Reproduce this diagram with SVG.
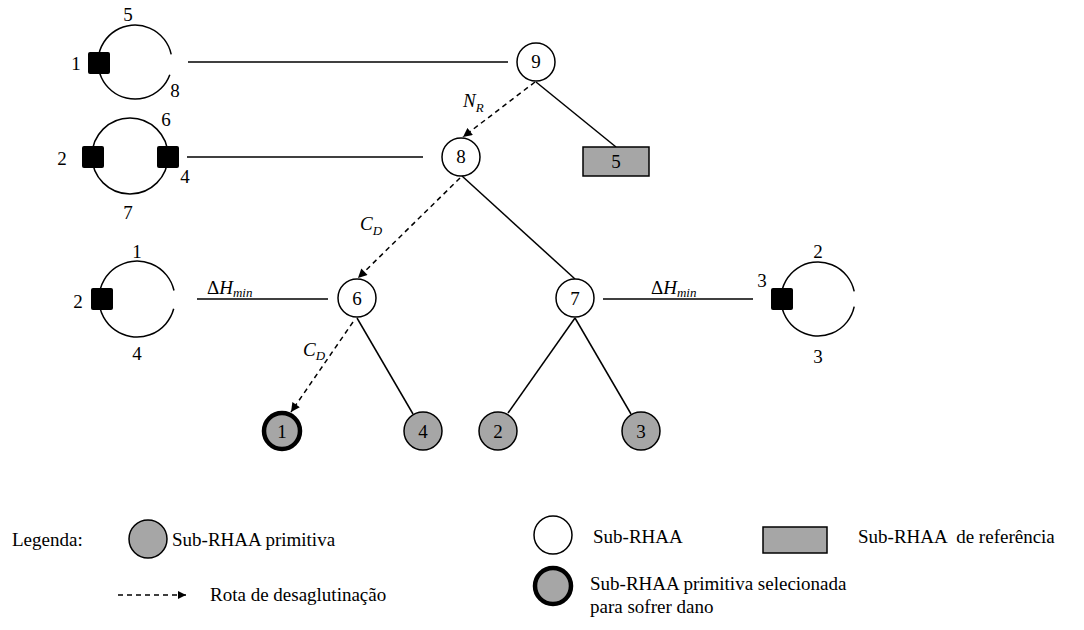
<svg xmlns="http://www.w3.org/2000/svg" width="1084" height="630" viewBox="0 0 1084 630" font-family="'Liberation Serif', 'DejaVu Serif', serif">
<defs>
<marker id="arr" viewBox="0 0 10 10" refX="10" refY="5" markerWidth="10" markerHeight="9" markerUnits="userSpaceOnUse" orient="auto"><path d="M0,0 L10,5 L0,10 z" fill="#000"/></marker>
<marker id="arrL" viewBox="0 0 10 10" refX="10" refY="5" markerWidth="10" markerHeight="8" markerUnits="userSpaceOnUse" orient="auto"><path d="M0,0 L10,5 L0,10 z" fill="#000"/></marker>
</defs>
<style>
text{font-family:'Liberation Serif','DejaVu Serif',serif;font-size:19px;fill:#000}
.c{text-anchor:middle}
.it{font-style:italic}
.sub{font-size:13px;font-style:italic}
.ln{stroke:#000;stroke-width:1.5;fill:none}
.ds{stroke:#000;stroke-width:1.5;fill:none;stroke-dasharray:5 4}
.wn{fill:#fff;stroke:#000;stroke-width:1.5}
.gn{fill:#a6a6a6;stroke:#000;stroke-width:1.5}
.sel{fill:#a6a6a6;stroke:#000;stroke-width:4.5}
.ring{fill:none;stroke:#000;stroke-width:1.5}
.sq{fill:#000}
</style>

<g id="connectors">
<line class="ln" x1="188" y1="62" x2="508" y2="62"/>
<line class="ln" x1="187" y1="157" x2="423" y2="157"/>
<line class="ln" x1="197" y1="299" x2="328" y2="299"/>
<line class="ln" x1="603" y1="299" x2="753" y2="299"/>
<path class="ds" d="M535,82 L463,137" marker-end="url(#arr)"/>
<line class="ln" x1="536" y1="82" x2="616" y2="147"/>
<path class="ds" d="M460,178 L358,278" marker-end="url(#arr)"/>
<line class="ln" x1="462" y1="176" x2="575" y2="279"/>
<path class="ds" d="M353,322 L291,412" marker-end="url(#arr)"/>
<line class="ln" x1="357" y1="318" x2="413" y2="414"/>
<line class="ln" x1="575" y1="318" x2="508" y2="413"/>
<line class="ln" x1="575" y1="318" x2="631" y2="414"/>
</g>

<g id="edge-labels">
<text class="it" x="463" y="107">N<tspan class="sub" dy="5">R</tspan></text>
<text class="it" x="360" y="230">C<tspan class="sub" dy="5">D</tspan></text>
<text class="it" x="303" y="356">C<tspan class="sub" dy="4">D</tspan></text>
<text x="207" y="294">Δ<tspan class="it">H</tspan><tspan class="sub" dy="3">min</tspan></text>
<text x="651" y="294">Δ<tspan class="it">H</tspan><tspan class="sub" dy="3">min</tspan></text>
</g>

<g id="node-9"><circle class="wn" cx="536" cy="62" r="19"/><text class="c" x="536" y="68">9</text></g>
<g id="node-8"><circle class="wn" cx="461" cy="157" r="19"/><text class="c" x="461" y="163">8</text></g>
<g id="node-ref-5"><rect x="583" y="147" width="66" height="29" fill="#a6a6a6" stroke="#000" stroke-width="1.5"/><text class="c" x="616" y="168">5</text></g>
<g id="node-6"><circle class="wn" cx="357" cy="298" r="19"/><text class="c" x="357" y="305">6</text></g>
<g id="node-7"><circle class="wn" cx="575" cy="298" r="19"/><text class="c" x="575" y="305">7</text></g>
<g id="node-1"><circle class="sel" cx="282" cy="431" r="18"/><text class="c" x="282" y="438">1</text></g>
<g id="node-4"><circle class="gn" cx="423" cy="431" r="19"/><text class="c" x="423" y="438">4</text></g>
<g id="node-2"><circle class="gn" cx="498" cy="431" r="19"/><text class="c" x="498" y="438">2</text></g>
<g id="node-3"><circle class="gn" cx="641" cy="431" r="19"/><text class="c" x="641" y="438">3</text></g>

<g id="ring-a">
<path class="ring" d="M169.8,74.7 A37,37 0 1 1 171.2,54.3"/>
<rect class="sq" x="88" y="52" width="22" height="22" rx="2"/>
<text class="c" x="128" y="21">5</text>
<text class="c" x="76" y="70">1</text>
<text class="c" x="175" y="97">8</text>
</g>
<g id="ring-b">
<circle class="ring" cx="130" cy="156" r="38"/>
<rect class="sq" x="82" y="146" width="22" height="22" rx="2"/>
<rect class="sq" x="157" y="146" width="22" height="22" rx="2"/>
<text class="c" x="166" y="126">6</text>
<text class="c" x="62" y="165">2</text>
<text class="c" x="185" y="183">4</text>
<text class="c" x="128" y="219">7</text>
</g>
<g id="ring-c">
<path class="ring" d="M173.7,308.8 A38,38 0 1 1 174,290.5"/>
<rect class="sq" x="91" y="288" width="22" height="22" rx="2"/>
<text class="c" x="137" y="258">1</text>
<text class="c" x="78" y="308">2</text>
<text class="c" x="137" y="360">4</text>
</g>
<g id="ring-d">
<path class="ring" d="M854.2,306.7 A37,37 0 1 1 854.2,291.3"/>
<rect class="sq" x="771" y="288" width="22" height="22" rx="2"/>
<text class="c" x="818" y="258">2</text>
<text class="c" x="762" y="287">3</text>
<text class="c" x="818" y="363">3</text>
</g>

<g id="legend">
<text x="12" y="546">Legenda:</text>
<circle class="gn" cx="148" cy="539" r="19"/>
<text x="172" y="546">Sub-RHAA primitiva</text>
<circle class="wn" cx="553" cy="535" r="19"/>
<text x="593" y="543">Sub-RHAA</text>
<rect x="763" y="527" width="64" height="26" fill="#a6a6a6" stroke="#000" stroke-width="1.5"/>
<text x="858" y="543" xml:space="preserve">Sub-RHAA  de referência</text>
<path class="ds" d="M118,595 L186,595" marker-end="url(#arrL)"/>
<text x="210" y="601">Rota de desaglutinação</text>
<circle class="sel" cx="553" cy="586" r="18"/>
<text x="590" y="590">Sub-RHAA primitiva selecionada</text>
<text x="590" y="613">para sofrer dano</text>
</g>
</svg>
